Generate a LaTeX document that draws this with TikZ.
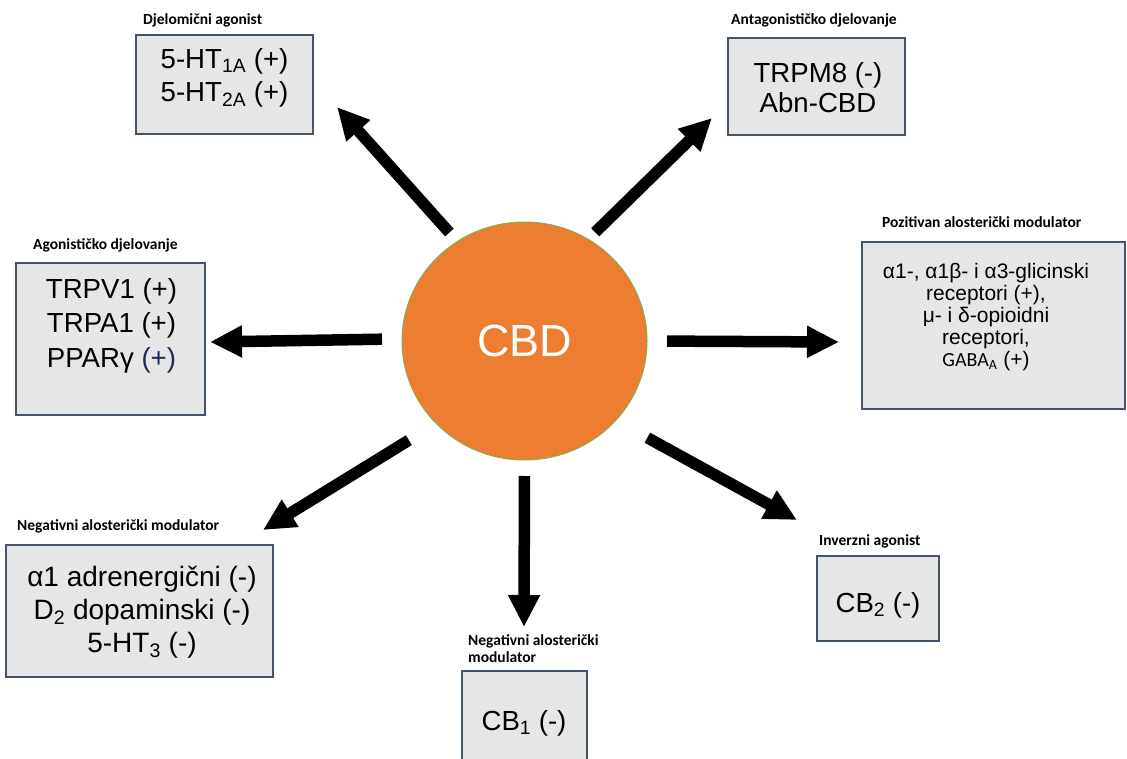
\documentclass[tikz,border=0pt]{standalone}
\usepackage{fontspec}
\setmainfont{Liberation Sans}
\newfontfamily\lblfont{Carlito}
\usetikzlibrary{arrows.meta, shapes.geometric}
\definecolor{cbdorange}{HTML}{ED7D31}
\definecolor{cbdrim}{HTML}{8FA954}
\definecolor{boxfill}{HTML}{E7E6E6}
\definecolor{boxline}{HTML}{44546A}
\definecolor{navytxt}{HTML}{1F2A55}

\begin{document}
\begin{tikzpicture}[x=1pt, y=-1pt,
    box/.style={draw=boxline, fill=boxfill, line width=1.3pt, inner sep=0pt, outer sep=0pt},
    boxtext/.style={anchor=north, align=center, inner sep=0pt},
    tag/.style={anchor=base west, inner sep=0pt, font=\lblfont\bfseries\fontsize{15.5}{17}\selectfont},
    arr/.style={line width=11.5pt, -{Triangle[length=32pt, width=30pt]}}]
        % Page frame
        \fill[white] (0,0) rectangle (1127,759);
        \useasboundingbox (0,0) rectangle (1127,759);

        % Draw the CBD circle
        \node[ellipse, fill=cbdorange, draw=cbdrim, line width=1pt, inner sep=0pt, outer sep=0pt,
              minimum width=245, minimum height=238, text=white,
              font=\fontsize{45}{54}\selectfont] (cbd) at (524.5,341) {CBD};

        % Draw the boxes
        \node[box, minimum width=177, minimum height=99] (b-partial) at (224.5,84.5) {};
        \node[box, minimum width=177, minimum height=97] (b-antag) at (816.5,86.5) {};
        \node[box, minimum width=189, minimum height=152] (b-agon) at (110.5,339) {};
        \node[box, minimum width=263, minimum height=167] (b-pam) at (993.5,325.5) {};
        \node[box, minimum width=267, minimum height=132] (b-nam) at (139.5,611) {};
        \node[box, minimum width=125, minimum height=119] (b-cb1) at (524.5,730.5) {};
        \node[box, minimum width=122, minimum height=85] (b-cb2) at (878,598.5) {};

        % Box texts
        \node[boxtext, font=\fontsize{27.6}{33}\selectfont] (t-partial) at (224.5,48)
            {5-HT\textsubscript{1A} (+)\\5-HT\textsubscript{2A} (+)};
        \node[boxtext, font=\fontsize{27.6}{30}\selectfont] (t-antag) at (818,62)
            {TRPM8 (-)\\Abn-CBD};
        \node[boxtext, font=\fontsize{27.6}{34.7}\selectfont] (t-agon) at (111.5,278)
            {TRPV1 (+)\\TRPA1 (+)\\PPARγ {\color{navytxt}(+)}};
        \node[boxtext, font=\fontsize{21}{22}\selectfont] (t-pam) at (986,263)
            {α1-, α1β- i α3-glicinski\\receptori (+),\\μ- i δ-opioidni\\receptori,\\
             {\lblfont\fontsize{20}{22}\selectfont GABA\textsubscript{A}} (+)};
        \node[boxtext, font=\fontsize{28}{33}\selectfont] (t-nam) at (142,566)
            {α1 adrenergični (-)\\D\textsubscript{2} dopaminski (-)\\5-HT\textsubscript{3} (-)};
        \node[anchor=base, inner sep=0pt, font=\fontsize{27.6}{33}\selectfont] (t-cb1) at (524,730)
            {CB\textsubscript{1} (-)};
        \node[anchor=base, inner sep=0pt, font=\fontsize{27.6}{33}\selectfont] (t-cb2) at (878,612)
            {CB\textsubscript{2} (-)};

        % Labels
        \node[tag] (l-partial) at (143,25) {Djelomični agonist};
        \node[tag] (l-antag) at (731,25) {Antagonističko djelovanje};
        \node[tag] (l-agon) at (33,250) {Agonističko djelovanje};
        \node[tag] (l-pam) at (882,228) {Pozitivan alosterički modulator};
        \node[tag] (l-nam) at (17,530) {Negativni alosterički modulator};
        \node[tag, anchor=north west, align=left] (l-cb1) at (468,634) {Negativni alosterički\\modulator};
        \node[tag] (l-cb2) at (819,545) {Inverzni agonist};

        % Arrow tips next to the boxes
        \coordinate (tip-partial) at (337,107);
        \coordinate (tip-antag) at (712,118);
        \coordinate (tip-agon) at (210,342);
        \coordinate (tip-pam) at (839,342);
        \coordinate (tip-nam) at (263,530);
        \coordinate (tip-cb1) at (524,627);
        \coordinate (tip-cb2) at (797,520);

        % Arrows from CBD
        \foreach \ang/\gap/\dst in {124.9/12/tip-partial, 58.1/10/tip-antag, 179.2/20/tip-agon,
                                    0.4/20/tip-pam, 223.4/32/tip-nam, 270/16/tip-cb1, 319.3/36/tip-cb2} {
            \draw[arr, shorten <=\gap pt] (cbd.\ang) -- (\dst);
        }
    \end{tikzpicture}
\end{document}
